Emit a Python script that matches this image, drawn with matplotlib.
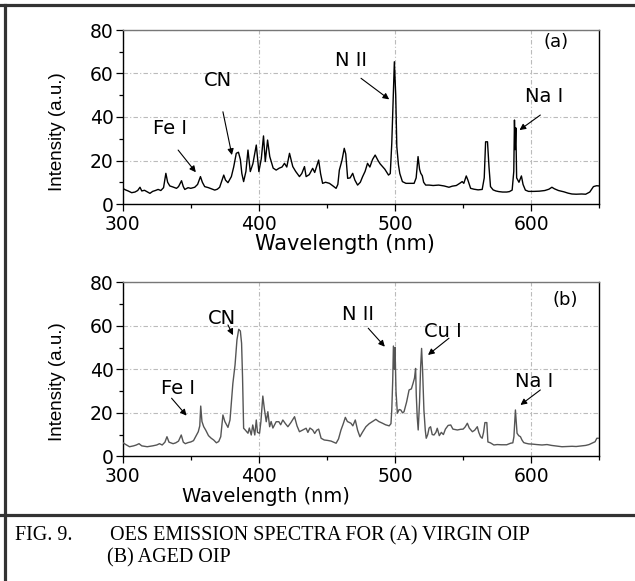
import matplotlib
matplotlib.use("Agg")
import matplotlib.pyplot as plt
from matplotlib.lines import Line2D

# ---- spectrum (a): virgin OIP ----
wl_a = [300, 302, 304, 306.6, 309, 311, 312.7, 314, 316, 318, 320, 322, 324, 326, 328, 330,
        331.7, 333, 334.6, 337, 339.5, 341, 343.2, 344.5, 345.6, 348, 350, 352.9, 355, 357.1,
        358.5, 360.2, 363, 365, 367.6, 369.5, 371.2, 374.2, 375.5, 377.3, 379.8, 381.5, 383.4,
        385, 386.4, 387.5, 388.8, 390.5, 392, 393.7, 395.6, 398.1, 400, 401.8, 403.4, 404.7,
        406.4, 408, 409.1, 410.5, 412.7, 415, 417, 418.8, 420.5, 422.5, 424.9, 427, 429.8,
        431.5, 433.5, 434.7, 437, 439.5, 441, 443.9, 445.3, 446.8, 449, 451.8, 454, 456.7,
        458, 459.1, 461, 462.7, 463.8, 465.2, 467, 468.9, 470.5, 472.5, 474.5, 476.2, 478,
        479.8, 481.5, 483.5, 485.4, 487.5, 489, 490.8, 492.5, 494, 495.2, 496.5, 497.6, 498.5,
        499.5, 500.5, 501.3, 502.5, 503.5, 505.4, 508, 511, 514, 515.5, 516.9, 518, 518.9, 520,
        521, 522.5, 525, 528, 532, 536, 539.6, 542, 545, 547.5, 549.3, 550.5, 552.3, 553.5,
        555.5, 558, 561, 564, 565.5, 566.5, 567.9, 569, 570.1, 572, 574, 576.2, 579, 582, 584,
        586, 587.2, 587.7, 588.2, 588.7, 589.3, 591, 592.8, 594, 595.7, 598, 602, 606, 610,
        613, 615.2, 617, 620, 624, 627, 629.9, 633, 637, 640, 643, 645.7, 648, 650]
int_a = [7.2, 6.5, 6.0, 5.2, 5.5, 6.2, 7.7, 6.0, 6.3, 5.6, 4.9, 5.8, 6.2, 6.7, 6.2, 7.5,
         14.1, 10, 8.3, 7.8, 7.2, 8, 10.7, 8, 6.7, 7.5, 7.2, 7.7, 9, 12.6,
         10, 8, 7.5, 7, 6.4, 6.8, 7.7, 13.3, 11, 9.8, 12.6, 17, 23.3,
         23.8, 20.5, 14, 10.3, 15, 24.8, 14.9, 18.5, 27.1, 14.9, 20.9, 31.3, 19.5,
         29.4, 21.8, 19.5, 16.5, 15.6, 16.5, 17, 18.7, 17, 23.3, 17.2, 15, 12.6,
         14, 17.2, 12.6, 13.5, 16.4, 14.5, 20.2, 14, 9.5, 10, 9.5, 8.5, 7.2,
         9, 15.6, 20, 25.6, 23, 11.8, 12, 14.1, 11, 8.7, 10, 12.6, 15,
         18.7, 17, 20.5, 22.5, 20, 18.5, 17.2, 16, 14.5, 13.3, 14, 27.9, 45,
         65.4, 50, 26.4, 18, 14, 10.3, 9.5, 9.5, 9.5, 12, 21.8, 16, 14.1, 13,
         10, 8.7, 8.7, 8.5, 8.7, 8.3, 7.7, 8.2, 8.5, 9.5, 10.3, 9.5, 12.9, 11,
         7.2, 6.8, 6.5, 6.7, 12, 28.6, 28.6, 17, 8, 6.5, 6, 5.7, 5.5, 5.5, 5.7,
         6.4, 15, 38.6, 25, 35, 12, 10, 12.9, 9, 6.4, 5.8, 5.8, 5.9, 6.2,
         6.8, 7.7, 7, 6.2, 5.6, 5, 4.6, 4.5, 4.6, 4.5, 5.5, 8, 8.4, 8.3]

# ---- spectrum (b): aged OIP ----
wl_b = [300, 302, 305, 308, 310, 312, 314, 316, 318, 320, 322, 325, 327, 329, 331, 332.5,
        334, 337, 339, 341, 343, 344.5, 346, 348, 350, 352, 354, 355.5, 356.6, 357.3, 358.2,
        359.5, 361, 363, 365, 366.8, 368.8, 370.5, 372, 373.6, 375, 377.3, 378.8, 380.9,
        382.5, 383.9, 385.2, 386.4, 387.3, 388, 388.8, 390, 392, 393, 394.4, 395.5, 397,
        398.1, 399, 400.5, 401.5, 402.9, 404, 405.4, 406.6, 407.9, 409, 410.3, 412.7, 414.7,
        416, 417.6, 419.5, 421.3, 423.5, 426.2, 428, 429.8, 432, 434.7, 436, 437.5, 439.5,
        441, 442.5, 443.9, 445.7, 448, 450.5, 453, 456.7, 458.5, 460.3, 462, 463.5, 465,
        467.6, 469, 470.8, 472.5, 474.2, 476, 478.6, 481, 483.5, 485.9, 488, 490.8, 493,
        495.7, 497, 497.6, 498.3, 498.8, 499.5, 500, 500.7, 501.7, 503, 504.2, 505.5, 506.6,
        508.5, 510.3, 512, 513.2, 514.3, 515.1, 515.6, 516.3, 517, 518, 518.8, 519.5, 520.2,
        521.2, 522.2, 522.9, 524, 525, 526.1, 527.3, 528.6, 530, 531, 532.5, 534, 535.5, 537,
        539, 540.9, 542.5, 544, 545.8, 548, 550, 551.5, 553.1, 554.5, 556.8, 558.5, 560.4,
        561.5, 562.8, 564, 565, 566, 567.4, 568.2, 570, 572.6, 575, 578, 582, 584.8, 586.5,
        587.3, 588.4, 589.2, 589.6, 590.8, 592.1, 593.2, 594.5, 596, 598.2, 601, 604, 607.9,
        611.6, 615, 619, 622.6, 626, 630, 633, 637.2, 640, 642.5, 644.6, 646.9, 648.2, 650]
int_b = [6.3, 5.5, 4.4, 4.8, 5.2, 5.8, 4.8, 4.6, 4.4, 4.6, 4.8, 5.2, 5.8, 5.2, 6.5, 9,
         6.5, 5.8, 6.2, 7, 9.8, 6.5, 5.8, 6.3, 6.6, 7.2, 9.5, 11.3, 14, 23.1, 16,
         13.6, 12, 9.5, 8.3, 7.5, 6.2, 6.8, 9, 19, 16, 13.3, 16.7, 33.5,
         42, 53.5, 58.4, 57.6, 52, 36.6, 12.9, 12.1, 10.6, 13, 9.8, 14.4, 9.8,
         16.7, 11, 10.6, 16, 27.7, 22, 15.9, 20.5, 13.6, 16, 13, 15.9, 15.9,
         14.5, 16.7, 15, 13.6, 15.5, 18.2, 14, 11.3, 12, 12.9, 11, 13, 12.1,
         10.5, 12, 12.5, 8.3, 7.5, 7.3, 7, 6, 8, 12.1, 15, 17.9, 16,
         15.2, 14, 16.7, 12, 9, 11, 13.6, 15, 16, 17, 16, 15.2, 14.5,
         14, 15, 21.3, 35, 50.7, 40, 50, 30, 19.8, 21.5, 21.3, 20, 20.5,
         25, 30.5, 31, 33.5, 36, 40.4, 28, 18, 12.1, 25, 41.2, 49.6, 40,
         21.3, 12, 8.3, 10, 13, 13.6, 10, 9.8, 11, 12.9, 9.5, 11, 10, 12.5,
         14.2, 14.4, 12.5, 12.3, 12.1, 12.4, 12.5, 13.5, 15.2, 13, 11.3, 12, 13.6,
         11, 9, 8.3, 11, 15.5, 15.5, 6.6, 6.2, 5.2, 5.4, 5.3, 5.3, 6, 6.2,
         9, 21.3, 14, 10.6, 9.5, 9, 7.5, 6.3, 6, 5.7, 5.6, 5.4, 5.2,
         5.4, 5, 4.7, 4.4, 4.5, 4.6, 4.5, 4.8, 5, 5.4, 6, 6.7, 8.3, 8.3]

x_ticks = [300, 400, 500, 600]
y_ticks = [0, 20, 40, 60, 80]

# line labels: (text, text position, arrow tail, arrow head)
labels_a = [("Fe I", (334.6, 34.7), (340.7, 24.8), (353.7, 14.6)),
            ("CN", (370.0, 57.0), (373.6, 42.4), (380.2, 22.5)),
            ("N II", (467.6, 65.8), (475.0, 57.8), (495.7, 48.1)),
            ("Na I", (609.7, 49.3), (606.7, 40.9), (591.4, 34.0))]
labels_b = [("Fe I", (340.7, 31.3), (335.9, 26.7), (346.9, 18.7)),
            ("CN", (373.1, 63.3), (377.3, 60.4), (381.0, 55.7)),
            ("N II", (472.5, 65.0), (480.3, 58.9), (492.5, 50.4)),
            ("Cu I", (535.4, 57.3), (539.6, 54.3), (524.2, 46.6)),
            ("Na I", (602.4, 34.3), (606.7, 30.5), (592.1, 23.6))]

W, H = 635, 581
fig = plt.figure(figsize=(W / 100, H / 100), dpi=100)
fig.patch.set_facecolor("white")

SANS = "DejaVu Sans"


def fx(px):
    return px / W


def fy(py):
    return 1 - py / H


def make_panel(top_px, wl, inten, color, labels, tag, tag_pos):
    left, right, height = 122.7, 599.3, 174.0
    ax = fig.add_axes([fx(left), fy(top_px + height), (right - left) / W, height / H])
    ax.plot(wl, inten, color=color, lw=1.0, zorder=3)
    ax.set_xlim(300, 650)
    ax.set_ylim(0, 80)
    ax.set_xticks(x_ticks)
    ax.set_xticks([350, 450, 550, 650], minor=True)
    ax.set_yticks(y_ticks)
    ax.set_yticks([10, 30, 50, 70], minor=True)
    ax.tick_params(which="major", direction="out", length=5, width=0.9,
                   labelsize=13.5, pad=1.5, colors="black")
    ax.tick_params(axis="x", which="major", pad=3)
    ax.tick_params(which="minor", direction="out", length=3, width=0.9)
    for lab in ax.get_xticklabels() + ax.get_yticklabels():
        lab.set_fontfamily(SANS)
    ax.grid(True, which="major", color="#bbbbbb", lw=0.8,
            linestyle=(0, (4, 2, 1, 2)), zorder=0)
    for side in ("left", "bottom", "right"):
        ax.spines[side].set_color("black")
        ax.spines[side].set_linewidth(1.0)
    ax.spines["top"].set_color("#777777")
    ax.spines["top"].set_linewidth(1.0)
    for text, tpos, tail, head in labels:
        ax.text(tpos[0], tpos[1], text, ha="center", va="center",
                fontsize=14, family=SANS, color="black", zorder=5)
        ax.annotate("", xy=head, xytext=tail,
                    arrowprops=dict(arrowstyle="-|>", color="black", lw=0.8,
                                    mutation_scale=9, shrinkA=0, shrinkB=0),
                    zorder=5)
    ax.text(tag_pos[0], tag_pos[1], tag, ha="center", va="center",
            fontsize=13, family=SANS, color="black")
    return ax


ax_a = make_panel(30.0, wl_a, int_a, "black", labels_a, "(a)", (618.3, 74.3))
ax_b = make_panel(282.3, wl_b, int_b, "#555555", labels_b, "(b)", (625.3, 71.8))

# axis titles
fig.text(fx(345), fy(244), "Wavelength (nm)", ha="center", va="center",
         fontsize=15, family=SANS)
fig.text(fx(266), fy(496), "Wavelength (nm)", ha="center", va="center",
         fontsize=14, family=SANS)
fig.text(fx(57), fy(131.7), "Intensity (a.u.)", ha="center", va="center",
         rotation=90, fontsize=13.5, family="Liberation Sans")
fig.text(fx(57), fy(382), "Intensity (a.u.)", ha="center", va="center",
         rotation=90, fontsize=13.5, family="Liberation Sans")

# frame and caption rule
frame = dict(color="#333333", lw=2.3, transform=fig.transFigure)
fig.add_artist(Line2D([0, 1], [fy(5), fy(5)], **frame))
fig.add_artist(Line2D([fx(4.5), fx(4.5)], [0, fy(5)], **frame))
fig.add_artist(Line2D([0, 1], [fy(515), fy(515)], **frame))

SERIF = "Liberation Serif"
CAP = 14.5
fig.text(fx(15), fy(536), "FIG. 9.", ha="left", va="center", fontsize=CAP, family=SERIF)
fig.text(fx(110), fy(536), "OES EMISSION SPECTRA FOR (A) VIRGIN OIP", ha="left",
         va="center", fontsize=CAP, family=SERIF)
fig.text(fx(107), fy(558), "(B) AGED OIP", ha="left", va="center", fontsize=CAP,
         family=SERIF)

fig.savefig("out.png", dpi=100)
